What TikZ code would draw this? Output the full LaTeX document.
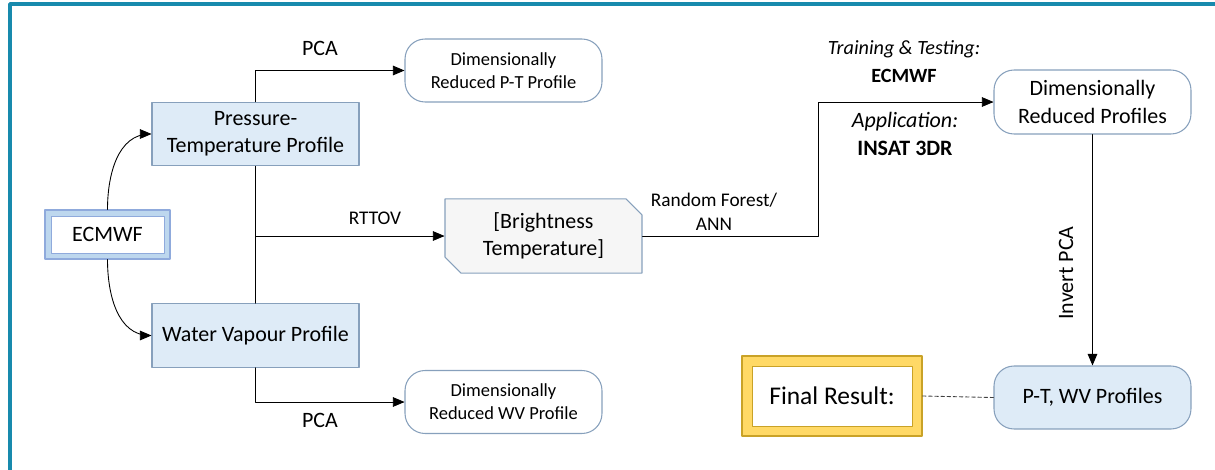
\documentclass[tikz,border=0pt]{standalone}
\usepackage{fontspec}
\setmainfont{Carlito}
\usepackage{tikz}
\usetikzlibrary{arrows,shapes.misc}
\definecolor{ttqqaa}{RGB}{24,138,173}
\definecolor{deebf7}{RGB}{222,235,247}
\definecolor{bbccdd}{RGB}{135,160,188}
\definecolor{bdd7ee}{RGB}{189,215,238}
\definecolor{aabbee}{RGB}{143,170,220}
\definecolor{fffdfd}{RGB}{246,246,246}
\definecolor{ffdd66}{RGB}{255,217,102}
\definecolor{ccaa33}{RGB}{201,162,39}

\begin{document}
\begin{tikzpicture}[line cap=round,line join=round,>=triangle 45,x=0.02cm,y=-0.02cm,
  profile/.style={draw=bbccdd,fill=deebf7,line width=0.6pt,minimum width=4.14cm,minimum height=1.27cm,align=center,font=\fontsize{12.5}{15.5}\selectfont},
  reduced/.style={draw=bbccdd,fill=white,line width=0.6pt,rounded corners=0.4cm,minimum width=3.94cm,minimum height=1.26cm,align=center},
  lbl/.style={font=\fontsize{11}{13.5}\selectfont,align=center}]
\useasboundingbox (0,0) rectangle (1215,470);
\draw [color=ttqqaa,line width=2pt,line cap=butt] (10,470) -- (10,4) -- (1215,4);
% sources
\node [draw=aabbee,fill=bdd7ee,line width=0.6pt,minimum width=2.5cm,minimum height=0.98cm] (ecmwfo) at (107.5,234.5) {};
\node [draw=aabbee,fill=white,line width=0.5pt,minimum width=2.26cm,minimum height=0.74cm,font=\fontsize{12.5}{15}\selectfont] (ecmwf) at (107.5,234.5) {ECMWF};
\node [profile] (pt) at (255.5,134) {Pressure-\\Temperature Profile};
\node [profile] (wv) at (255.5,335.5) {Water Vapour Profile};
\node [reduced,font=\fontsize{10.5}{13}\selectfont] (dpt) at (503.5,70.5) {Dimensionally\\Reduced P-T Profile};
\node [reduced,font=\fontsize{10.5}{13}\selectfont] (dwv) at (503.5,402) {Dimensionally\\Reduced WV Profile};
\node [chamfered rectangle,chamfered rectangle corners={north east,south west},chamfered rectangle xsep=0.16cm,chamfered rectangle ysep=0.16cm,draw=bbccdd,fill=fffdfd,line width=0.6pt,minimum width=3.94cm,minimum height=1.28cm,align=center,font=\fontsize{12.5}{15.5}\selectfont] (bt) at (543.5,236) {[Brightness\\Temperature]};
\node [reduced,font=\fontsize{12.5}{15.5}\selectfont,minimum height=1.28cm] (drp) at (1092.5,102) {Dimensionally\\Reduced Profiles};
\node [reduced,fill=deebf7,font=\fontsize{12.5}{15.5}\selectfont,minimum height=1.26cm] (ptwv) at (1092.5,397.5) {P-T, WV Profiles};
\node [draw=ccaa33,fill=ffdd66,line width=0.6pt,minimum width=3.6cm,minimum height=1.6cm] (fino) at (832,396) {};
\node [draw=ccaa33,fill=white,line width=0.5pt,minimum width=3.2cm,minimum height=1.2cm,font=\fontsize{14.5}{17}\selectfont] (fin) at (832,396) {Final Result:};
% labels
\node [lbl,font=\fontsize{12.5}{15}\selectfont] (pcaup) at (320,48) {PCA};
\node [lbl,font=\fontsize{12.5}{15}\selectfont] (pcadown) at (320,420) {PCA};
\node [lbl] (rttov) at (375,218) {RTTOV};
\node [lbl] (rfann) at (714,212) {Random Forest/\\ANN};
\node [lbl,font=\fontsize{11.5}{14}\selectfont] (train) at (904,62) {\textit{Training \& Testing:}\\[2pt]\textbf{ECMWF}};
\node [lbl,font=\fontsize{12.5}{15}\selectfont] (apply) at (905,134) {\textit{Application:}\\[1pt]\textbf{INSAT 3DR}};
\node [lbl,font=\fontsize{12.5}{15}\selectfont,rotate=90] (invpca) at (1066,273) {Invert PCA};
% connectors
\coordinate (rf) at (818,0);
\draw [->,line width=0.5pt] (ecmwfo.north) to[out=90,in=180] (pt.west);
\draw [->,line width=0.5pt] (ecmwfo.south) to[out=-90,in=180] (wv.west);
\draw [line width=0.5pt] (pt.south) -- (wv.north);
\draw [->,line width=0.5pt] (pt.north) |- (dpt.west);
\draw [->,line width=0.5pt] (wv.south) |- (dwv.west);
\draw [->,line width=0.5pt] (pt.south |- bt.west) -- (bt.west);
\draw [->,line width=0.5pt] (bt.east) -| (rf |- drp.west) -- (drp.west);
\draw [->,line width=0.5pt] (drp.south) -- (ptwv.north);
\draw [color=darkgray,line width=0.5pt,dash pattern=on 2pt off 1.5pt] (fino.east) -- (ptwv.west);
\end{tikzpicture}
\end{document}
